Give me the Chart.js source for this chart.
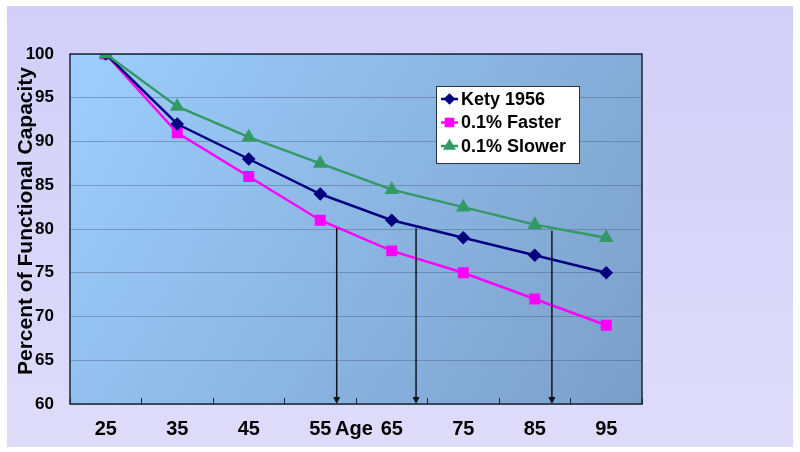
<!DOCTYPE html>
<html>
<head>
<meta charset="utf-8">
<script src="https://cdn.jsdelivr.net/npm/chart.js@4.4.1/dist/chart.umd.min.js"></script>
<style>
  html, body { margin: 0; padding: 0; background: #ffffff; }
  #frame { position: absolute; left: 7px; top: 6px; width: 786px; height: 441px;
           background: linear-gradient(to bottom, #d2cff9, #dedcf9); }
  #chart { position: absolute; left: 0; top: 0; }
</style>
</head>
<body>
<div id="frame"></div>
<canvas id="chart" width="800" height="452"></canvas>
<script>
// ── Data ──────────────────────────────────────────────────────────────────
const ages = ['25', '35', '45', '55', '65', '75', '85', '95'];
const kety1956 = [100, 92, 88, 84, 81, 79, 77, 75];
const faster01 = [100, 91, 86, 81, 77.5, 75, 72, 69];
const slower01 = [100, 94, 90.5, 87.5, 84.5, 82.5, 80.5, 79];
const yTicks = [60, 65, 70, 75, 80, 85, 90, 95, 100];

// Arrows dropping from each curve (where it reaches ~80%) down to the age axis
const arrowAges = [57.3, 68.4, 87.4];
const arrowTops = [80.1, 80.1, 79.8];

const FONT = '"Liberation Sans", Arial, sans-serif';

// ── Plot background, border, arrows, legend and axis titles ──────────────
const decorPlugin = {
    id: 'decor',
    beforeDraw(chart) {
        const { ctx, chartArea: a } = chart;
        const g = ctx.createLinearGradient(a.left, a.top, a.right, a.bottom);
        g.addColorStop(0, '#9dcefd');
        g.addColorStop(1, '#7b9fc9');
        ctx.save();
        ctx.fillStyle = g;
        ctx.fillRect(a.left, a.top, a.right - a.left, a.bottom - a.top);
        ctx.restore();
    },
    afterDatasetsDraw(chart) {
        const { ctx, chartArea: a, scales } = chart;
        const x = scales.x, y = scales.y;
        ctx.save();

        // arrows
        ctx.strokeStyle = '#101418';
        ctx.fillStyle = '#101418';
        ctx.lineWidth = 1.5;
        arrowAges.forEach((age, i) => {
            const px = x.getPixelForValue((age - 25) / 10);
            const top = y.getPixelForValue(arrowTops[i]);
            const bot = y.getPixelForValue(60);
            ctx.beginPath();
            ctx.moveTo(px, top);
            ctx.lineTo(px, bot - 5);
            ctx.stroke();
            ctx.beginPath();
            ctx.moveTo(px - 3.5, bot - 7);
            ctx.lineTo(px + 3.5, bot - 7);
            ctx.lineTo(px, bot);
            ctx.closePath();
            ctx.fill();
        });

        // plot border
        ctx.strokeStyle = '#1b2633';
        ctx.lineWidth = 1.5;
        ctx.strokeRect(a.left, a.top, a.right - a.left, a.bottom - a.top);

        // legend box
        const lx = 436, ly = 86, lw = 143, lh = 77;
        ctx.fillStyle = '#ffffff';
        ctx.fillRect(lx, ly, lw, lh);
        ctx.strokeStyle = '#2a3440';
        ctx.lineWidth = 1;
        ctx.strokeRect(lx + 0.5, ly + 0.5, lw, lh);
        ctx.font = 'bold 18px ' + FONT;
        ctx.textBaseline = 'middle';
        ctx.textAlign = 'left';
        chart.data.datasets.forEach((ds, i) => {
            const cy = ly + 13 + i * 23.5;
            ctx.strokeStyle = ds.borderColor;
            ctx.lineWidth = 2.5;
            ctx.beginPath();
            ctx.moveTo(lx + 5, cy);
            ctx.lineTo(lx + 22, cy);
            ctx.stroke();
            ctx.fillStyle = ds.pointBackgroundColor;
            ctx.strokeStyle = ds.pointBorderColor;
            Chart.helpers.drawPoint(ctx, {
                pointStyle: ds.pointStyle,
                radius: ds.pointRadius - 1,
                rotation: 0,
                borderWidth: 1
            }, lx + 13.5, cy);
            ctx.fillStyle = '#000000';
            ctx.fillText(ds.label, lx + 25, cy + 1);
        });

        // "Age" label sits on the tick-label line between 55 and 65
        ctx.font = 'bold 20px ' + FONT;
        ctx.textAlign = 'center';
        ctx.textBaseline = 'top';
        ctx.fillStyle = '#000000';
        ctx.fillText('Age', (a.left + a.right) / 2 - 2, a.bottom + 15);

        // y axis title
        ctx.translate(26, 221);
        ctx.rotate(-Math.PI / 2);
        ctx.font = 'bold 21px ' + FONT;
        ctx.textBaseline = 'middle';
        ctx.fillText('Percent of Functional Capacity', 0, 0);
        ctx.restore();
    }
};

const ctx = document.getElementById('chart').getContext('2d');
window.ageChart = new Chart(ctx, {
    type: 'line',
    data: {
        labels: ages,
        datasets: [
            {
                label: 'Kety 1956',
                data: kety1956,
                borderColor: '#000080',
                backgroundColor: '#000080',
                pointBackgroundColor: '#000080',
                pointBorderColor: '#000080',
                pointStyle: 'rectRot',
                pointRadius: 5,
                borderWidth: 2.5,
                tension: 0,
                order: 2
            },
            {
                label: '0.1% Faster',
                data: faster01,
                borderColor: '#ff00ff',
                backgroundColor: '#ff00ff',
                pointBackgroundColor: '#ff00ff',
                pointBorderColor: '#ff00ff',
                pointStyle: 'rect',
                pointRadius: 6,
                borderWidth: 2.5,
                tension: 0,
                order: 3
            },
            {
                label: '0.1% Slower',
                data: slower01,
                borderColor: '#339966',
                backgroundColor: '#339966',
                pointBackgroundColor: '#339966',
                pointBorderColor: '#339966',
                pointStyle: 'triangle',
                pointRadius: 6,
                borderWidth: 2.5,
                tension: 0,
                order: 1
            }
        ]
    },
    options: {
        responsive: false,
        devicePixelRatio: 1,
        animation: false,
        layout: { padding: { left: 0, top: 54, right: 158, bottom: 0 } },
        plugins: {
            legend: { display: false },
            tooltip: { enabled: false }
        },
        scales: {
            x: {
                type: 'category',
                offset: true,
                grid: {
                    offset: true,
                    drawOnChartArea: false,
                    drawTicks: true,
                    tickLength: -6,
                    tickColor: '#1b2633',
                    tickWidth: 1
                },
                border: { display: false },
                ticks: {
                    color: '#000000',
                    font: { family: FONT, size: 20, weight: 'bold' },
                    padding: 19,
                    maxRotation: 0
                },
                afterFit(scale) { scale.height = 48; }
            },
            y: {
                min: 60,
                max: 100,
                afterBuildTicks(scale) {
                    scale.ticks = yTicks.map(v => ({ value: v }));
                },
                grid: {
                    color: 'rgba(60, 85, 125, 0.4)',
                    lineWidth: 1,
                    drawTicks: false
                },
                border: { display: false },
                ticks: {
                    color: '#000000',
                    font: { family: FONT, size: 17, weight: 'bold' },
                    padding: 16
                },
                afterFit(scale) { scale.width = 70; }
            }
        }
    },
    plugins: [decorPlugin]
});
</script>
</body>
</html>
